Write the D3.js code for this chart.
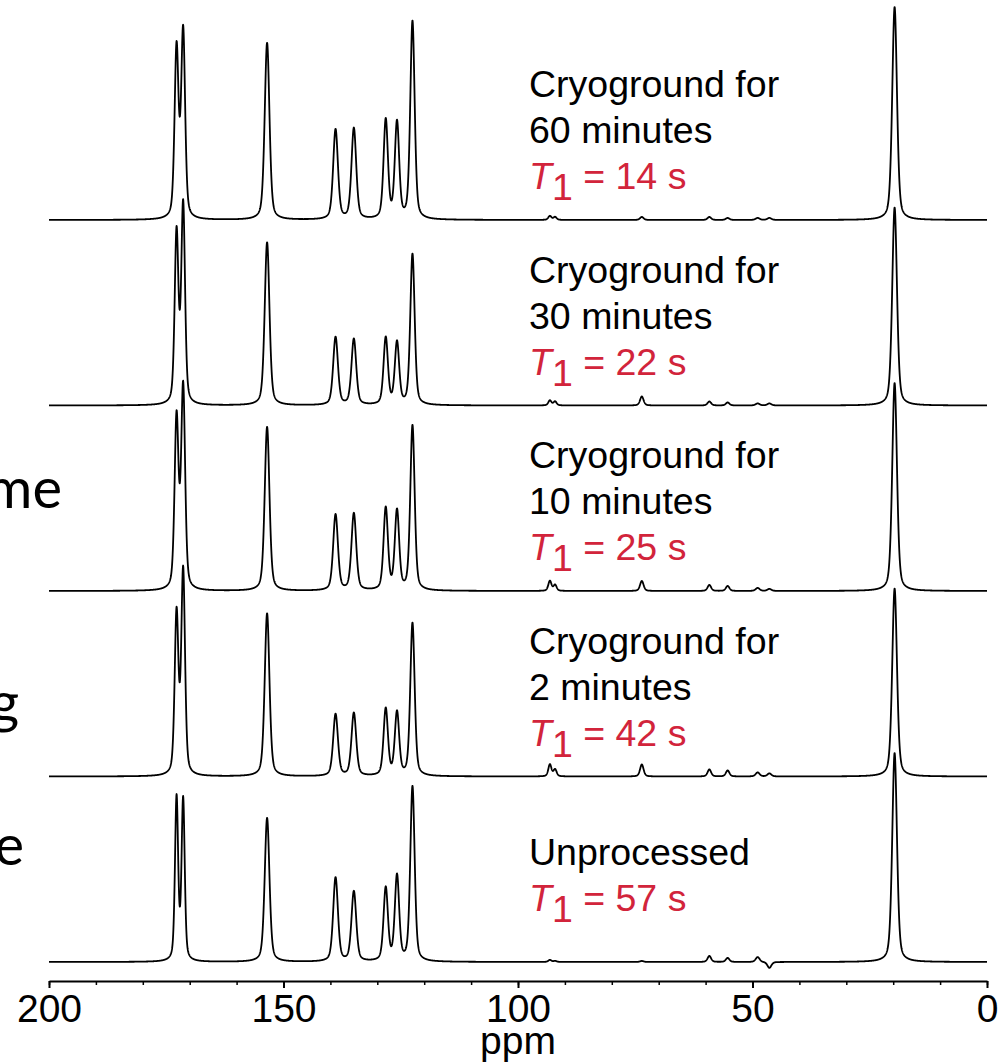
<!DOCTYPE html>
<html>
<head>
<meta charset="utf-8">
<script src="https://cdn.jsdelivr.net/npm/d3@7"></script>
<style>
  body { margin: 0; background: #fff; }
  text { font-family: "Liberation Sans", Arial, sans-serif; }
</style>
</head>
<body>
<script>
// peak list (ppm), line widths (ppm, FWHM)
var peakPpm   = [172.8, 171.4, 153.5, 138.9, 135.0, 128.2, 125.8, 122.5, 93.2, 92.1, 73.6, 59.2, 55.3, 48.9, 46.4, 19.7];
var peakWidth = [1.0,   1.0,   1.2,   1.2,   1.2,   1.1,   1.1,   1.1,   0.8,  0.8,  0.9,  0.9,  0.9,  1.0,  1.0,  1.2];

// peak heights (a.u.) for each sample, same order as peakPpm
var height60min  = [170, 187, 177, 90, 91, 99, 96, 198, 4, 3, 3, 3, 2, 2, 2, 213];
var height30min  = [171, 199, 163, 68, 66, 67, 62, 151, 5, 4, 9, 4, 3, 2, 2, 198];
var height10min  = [171, 202, 164, 76, 77, 82, 79, 165, 10, 6, 10, 6, 5, 3, 2, 208];
var height2min   = [161, 204, 163, 62, 63, 67, 63, 153, 12, 7, 12, 7, 6, 4, 3, 188];
var heightUnproc = [163, 161, 144, 84, 70, 73, 85, 175, 2, 1, 1, 6, 4, 5, -6, 209];

// the C=O doublet is a bit sharper in some samples
var doubletWidth = [1.0, 0.95, 1.0, 0.95, 0.8];

var sampleNames = ["Cryoground for 60 minutes", "Cryoground for 30 minutes",
                   "Cryoground for 10 minutes", "Cryoground for 2 minutes", "Unprocessed"];
var t1Values = [14, 22, 25, 42, 57];

var majorTicks = [200, 150, 100, 50, 0];
var minorTicks = d3.range(0, 201, 10);

var sideText = ["me", "g", "e"];

var W = 1005, H = 1063;
var svg = d3.select("body").append("svg")
  .attr("width", W)
  .attr("height", H);

var x = d3.scaleLinear().domain([200, 0]).range([49, 987]);
var base = d3.scaleLinear().domain([0, 4]).range([220, 962]);
var amp = d3.scaleLinear().domain([0, 100]).range([0, 100]);

var allHeights = [height60min, height30min, height10min, height2min, heightUnproc];

function shape(d, w) {
  var r = d / w;
  var g = Math.exp(-4 * Math.LN2 * r * r);
  var l = 1 / (1 + 4 * r * r);
  return 0.6 * g + 0.4 * l;
}

function spectrum(k) {
  var pts = [];
  for (var p = 200; p >= -0.001; p -= 0.04) {
    var s = 0;
    for (var i = 0; i < peakPpm.length; i++) {
      var w = i < 2 ? doubletWidth[k] : peakWidth[i];
      s += allHeights[k][i] * shape(p - peakPpm[i], w);
    }
    pts.push([p, s]);
  }
  return pts;
}

var line = d3.line()
  .x(function(d) { return x(d[0]); });

allHeights.forEach(function(h, k) {
  line.y(function(d) { return base(k) - amp(d[1]); });
  svg.append("path")
    .datum(spectrum(k))
    .attr("fill", "none")
    .attr("stroke", "#000")
    .attr("stroke-width", 1.8)
    .attr("stroke-linejoin", "round")
    .attr("d", line);
});

// labels
var red = "#d2243b";
sampleNames.forEach(function(name, k) {
  var b = base(k);
  var lines, tY;
  if (k < 4) {
    var parts = name.split(" for ");
    lines = [parts[0] + " for", parts[1]];
    tY = b - 31;
  } else {
    lines = [name];
    tY = b - 51;
  }
  lines.forEach(function(s, j) {
    svg.append("text")
      .attr("x", 529)
      .attr("y", k < 4 ? b - 123 + j * 46 : b - 97)
      .attr("font-size", 37.5)
      .attr("fill", "#000")
      .text(s);
  });
  var t = svg.append("text")
    .attr("x", 529)
    .attr("y", tY)
    .attr("font-size", 37.5)
    .attr("fill", red);
  t.append("tspan").attr("font-style", "italic").text("T");
  t.append("tspan").attr("dy", 11).text("1");
  t.append("tspan").attr("dy", -11).text(" = " + t1Values[k] + " s");
});

// clipped text on the left edge
var sideY = [508, 722, 865], sideX = [62, 19, 24];
svg.selectAll(".side")
  .data(sideText)
  .enter().append("text")
  .attr("class", "side")
  .attr("x", function(d, i) { return sideX[i]; })
  .attr("y", function(d, i) { return sideY[i]; })
  .attr("text-anchor", "end")
  .style("font-family", "Lato, 'Open Sans', sans-serif")
  .attr("font-size", 56)
  .text(function(d) { return d; });

// axis
var axisY = 981;
var minorAxis = d3.axisBottom(x).tickValues(minorTicks).tickSize(4).tickFormat("");
svg.append("g")
  .attr("transform", "translate(0," + axisY + ")")
  .call(minorAxis)
  .call(function(g) { g.select(".domain").remove(); })
  .selectAll("line").attr("stroke-width", 1.5);

var axis = d3.axisBottom(x).tickValues(majorTicks).tickSize(7).tickSizeOuter(0);
var ga = svg.append("g")
  .attr("transform", "translate(0," + axisY + ")")
  .call(axis);
ga.select(".domain").attr("stroke-width", 2);
ga.selectAll("line").attr("stroke-width", 2);
ga.selectAll("text")
  .attr("y", 41)
  .attr("dy", 0)
  .attr("font-size", 39)
  .style("font-family", "'Liberation Sans', Arial, sans-serif")
  .attr("fill", "#000");

svg.append("text")
  .attr("x", x(100))
  .attr("y", 1054)
  .attr("text-anchor", "middle")
  .attr("font-size", 39)
  .text("ppm");
</script>
</body>
</html>
